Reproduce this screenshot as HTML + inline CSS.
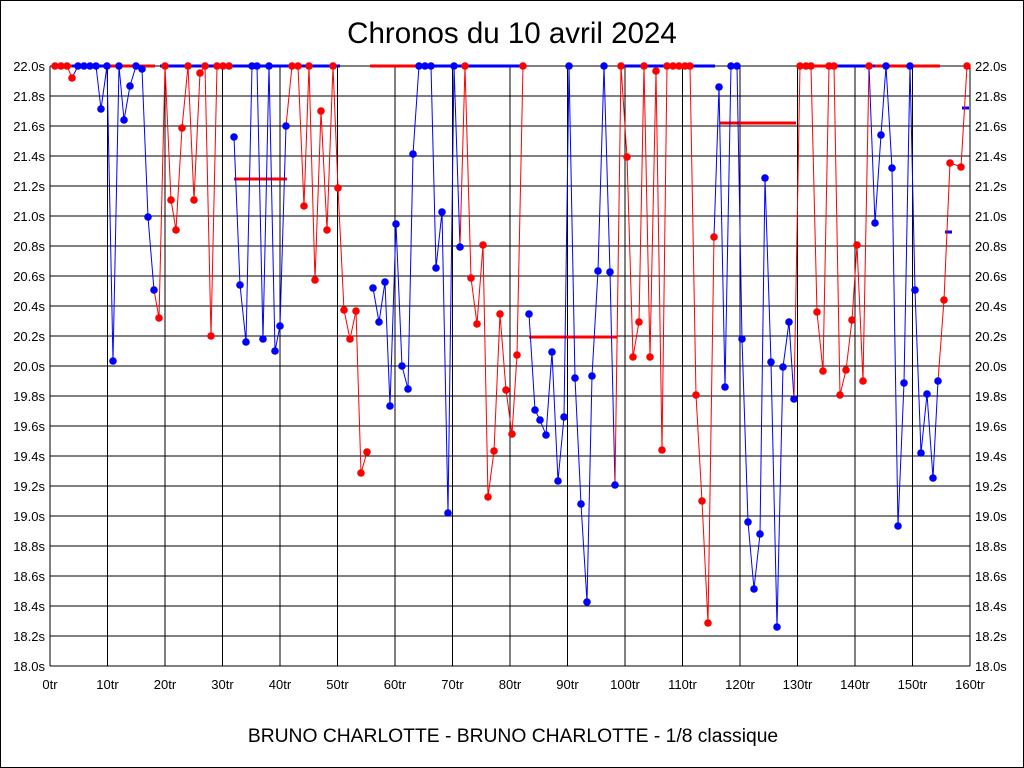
<!DOCTYPE html>
<html><head><meta charset="utf-8"><style>
body{margin:0;background:#fff;}
svg{display:block;font-family:"Liberation Sans",sans-serif;}
</style></head><body>
<svg width="1024" height="768" viewBox="0 0 1024 768">
<rect x="0.5" y="0.5" width="1023" height="767" fill="#fff" stroke="#000" stroke-width="1"/>
<text x="512" y="43" font-size="29.5" text-anchor="middle">Chronos du 10 avril 2024</text>
<text x="513" y="742" font-size="19.3" text-anchor="middle">BRUNO CHARLOTTE - BRUNO CHARLOTTE - 1/8 classique</text>
<g stroke="#000" stroke-width="1">
<path d="M50 66H970M50 96H970M50 126H970M50 156H970M50 186H970M50 216H970M50 246H970M50 276H970M50 306H970M50 336H970M50 366H970M50 396H970M50 426H970M50 456H970M50 486H970M50 516H970M50 546H970M50 576H970M50 606H970M50 636H970M50 666H970"/>
<path d="M50 66V666M107.5 66V666M165 66V666M222.5 66V666M280 66V666M337.5 66V666M395 66V666M452.5 66V666M510 66V666M567.5 66V666M625 66V666M682.5 66V666M740 66V666M797.5 66V666M855 66V666M912.5 66V666M970 66V666"/>
</g>
<g font-size="13" text-anchor="end">
<text x="45" y="71">22.0s</text><text x="45" y="101">21.8s</text><text x="45" y="131">21.6s</text><text x="45" y="161">21.4s</text><text x="45" y="191">21.2s</text><text x="45" y="221">21.0s</text><text x="45" y="251">20.8s</text><text x="45" y="281">20.6s</text><text x="45" y="311">20.4s</text><text x="45" y="341">20.2s</text><text x="45" y="371">20.0s</text><text x="45" y="401">19.8s</text><text x="45" y="431">19.6s</text><text x="45" y="461">19.4s</text><text x="45" y="491">19.2s</text><text x="45" y="521">19.0s</text><text x="45" y="551">18.8s</text><text x="45" y="581">18.6s</text><text x="45" y="611">18.4s</text><text x="45" y="641">18.2s</text><text x="45" y="671">18.0s</text>
</g>
<g font-size="13" text-anchor="start">
<text x="975" y="71">22.0s</text><text x="975" y="101">21.8s</text><text x="975" y="131">21.6s</text><text x="975" y="161">21.4s</text><text x="975" y="191">21.2s</text><text x="975" y="221">21.0s</text><text x="975" y="251">20.8s</text><text x="975" y="281">20.6s</text><text x="975" y="311">20.4s</text><text x="975" y="341">20.2s</text><text x="975" y="371">20.0s</text><text x="975" y="401">19.8s</text><text x="975" y="431">19.6s</text><text x="975" y="461">19.4s</text><text x="975" y="491">19.2s</text><text x="975" y="521">19.0s</text><text x="975" y="551">18.8s</text><text x="975" y="581">18.6s</text><text x="975" y="611">18.4s</text><text x="975" y="641">18.2s</text><text x="975" y="671">18.0s</text>
</g>
<g font-size="13" text-anchor="middle">
<text x="50" y="689">0tr</text><text x="107.5" y="689">10tr</text><text x="165" y="689">20tr</text><text x="222.5" y="689">30tr</text><text x="280" y="689">40tr</text><text x="337.5" y="689">50tr</text><text x="395" y="689">60tr</text><text x="452.5" y="689">70tr</text><text x="510" y="689">80tr</text><text x="567.5" y="689">90tr</text><text x="625" y="689">100tr</text><text x="682.5" y="689">110tr</text><text x="740" y="689">120tr</text><text x="797.5" y="689">130tr</text><text x="855" y="689">140tr</text><text x="912.5" y="689">150tr</text><text x="970" y="689">160tr</text>
</g>
<g stroke-width="3">
<path d="M55 66H72" stroke="#f00"/><path d="M72 66H105" stroke="#00f"/><path d="M105 66H155" stroke="#f00"/>
<path d="M160 66H340" stroke="#00f"/><path d="M370 66H450" stroke="#f00"/><path d="M430 66H525" stroke="#00f"/>
<path d="M620 66H715" stroke="#00f"/><path d="M800 66H830" stroke="#f00"/><path d="M830 66H875" stroke="#00f"/><path d="M875 66H940" stroke="#f00"/>
<path d="M234 179H287M529 337H617M720 123H796" stroke="#f00"/>
<path d="M945 232H952M962 108H969" stroke="#00f"/>
</g>
<g fill="none" stroke-width="1">
<polyline stroke="#f00" points="55,66 61,66 67,66 72,78"/>
<polyline stroke="#00f" points="72,78 78,66 84,66 90,66 96,66 101,109 107,66 113,361 119,66 124,120 130,86 136,66 142,69 148,217 154,290"/>
<polyline stroke="#f00" points="154,290 159,318 165,66 171,200 176,230 182,128 188,66 194,200 200,73 205,66 211,336 217,66 223,66 229,66"/>
<polyline stroke="#00f" points="234,137 240,285 246,342 252,66 257,66 263,339 269,66 275,351 280,326 286,126"/>
<polyline stroke="#f00" points="286,126 292,66 298,66 304,206 309,66 315,280 321,111 327,230 333,66 338,188 344,310 350,339 356,311 361,473 367,452"/>
<polyline stroke="#00f" points="373,288 379,322 385,282 390,406 396,224 402,366 408,389 413,154 419,66 425,66 431,66 436,268 442,212 448,513 454,66 460,247"/>
<polyline stroke="#f00" points="460,247 465,66 471,278 477,324 483,245 488,497 494,451 500,314 506,390 512,434 517,355 523,66"/>
<polyline stroke="#00f" points="529,314 535,410 540,420 546,435 552,352 558,481 564,417 569,66 575,378 581,504 587,602 592,376 598,271 604,66 610,272 615,485"/>
<polyline stroke="#f00" points="615,485 621,66 627,157 633,357 639,322 644,66 650,357 656,71 662,450 667,66 673,66 679,66 685,66 690,66 696,395 702,501 708,623 714,237"/>
<polyline stroke="#00f" points="714,237 719,87 725,387 731,66 737,66 742,339 748,522 754,589 760,534 765,178 771,362 777,627 783,367 789,322 794,399"/>
<polyline stroke="#f00" points="794,399 800,66 806,66 811,66 817,312 823,371 829,66 834,66 840,395 846,370 852,320 857,245 863,381 869,66"/>
<polyline stroke="#00f" points="869,66 875,223 881,135 886,66 892,168 898,526 904,383 910,66 915,290 921,453 927,394 933,478 938,381"/>
<polyline stroke="#f00" points="938,381 944,300 950,163 956,165 961,167 967,66"/>
</g>
<g fill="#f00">
<circle cx="55" cy="66" r="3.8"/><circle cx="61" cy="66" r="3.8"/><circle cx="67" cy="66" r="3.8"/><circle cx="72" cy="78" r="3.8"/>
<circle cx="159" cy="318" r="3.8"/><circle cx="165" cy="66" r="3.8"/><circle cx="171" cy="200" r="3.8"/><circle cx="176" cy="230" r="3.8"/><circle cx="182" cy="128" r="3.8"/><circle cx="188" cy="66" r="3.8"/><circle cx="194" cy="200" r="3.8"/><circle cx="200" cy="73" r="3.8"/><circle cx="205" cy="66" r="3.8"/><circle cx="211" cy="336" r="3.8"/><circle cx="217" cy="66" r="3.8"/><circle cx="223" cy="66" r="3.8"/><circle cx="229" cy="66" r="3.8"/>
<circle cx="292" cy="66" r="3.8"/><circle cx="298" cy="66" r="3.8"/><circle cx="304" cy="206" r="3.8"/><circle cx="309" cy="66" r="3.8"/><circle cx="315" cy="280" r="3.8"/><circle cx="321" cy="111" r="3.8"/><circle cx="327" cy="230" r="3.8"/><circle cx="333" cy="66" r="3.8"/><circle cx="338" cy="188" r="3.8"/><circle cx="344" cy="310" r="3.8"/><circle cx="350" cy="339" r="3.8"/><circle cx="356" cy="311" r="3.8"/><circle cx="361" cy="473" r="3.8"/><circle cx="367" cy="452" r="3.8"/>
<circle cx="465" cy="66" r="3.8"/><circle cx="471" cy="278" r="3.8"/><circle cx="477" cy="324" r="3.8"/><circle cx="483" cy="245" r="3.8"/><circle cx="488" cy="497" r="3.8"/><circle cx="494" cy="451" r="3.8"/><circle cx="500" cy="314" r="3.8"/><circle cx="506" cy="390" r="3.8"/><circle cx="512" cy="434" r="3.8"/><circle cx="517" cy="355" r="3.8"/><circle cx="523" cy="66" r="3.8"/>
<circle cx="621" cy="66" r="3.8"/><circle cx="627" cy="157" r="3.8"/><circle cx="633" cy="357" r="3.8"/><circle cx="639" cy="322" r="3.8"/><circle cx="644" cy="66" r="3.8"/><circle cx="650" cy="357" r="3.8"/><circle cx="656" cy="71" r="3.8"/><circle cx="662" cy="450" r="3.8"/><circle cx="667" cy="66" r="3.8"/><circle cx="673" cy="66" r="3.8"/><circle cx="679" cy="66" r="3.8"/><circle cx="685" cy="66" r="3.8"/><circle cx="690" cy="66" r="3.8"/><circle cx="696" cy="395" r="3.8"/><circle cx="702" cy="501" r="3.8"/><circle cx="708" cy="623" r="3.8"/><circle cx="714" cy="237" r="3.8"/>
<circle cx="800" cy="66" r="3.8"/><circle cx="806" cy="66" r="3.8"/><circle cx="811" cy="66" r="3.8"/><circle cx="817" cy="312" r="3.8"/><circle cx="823" cy="371" r="3.8"/><circle cx="829" cy="66" r="3.8"/><circle cx="834" cy="66" r="3.8"/><circle cx="840" cy="395" r="3.8"/><circle cx="846" cy="370" r="3.8"/><circle cx="852" cy="320" r="3.8"/><circle cx="857" cy="245" r="3.8"/><circle cx="863" cy="381" r="3.8"/><circle cx="869" cy="66" r="3.8"/>
<circle cx="944" cy="300" r="3.8"/><circle cx="950" cy="163" r="3.8"/><circle cx="961" cy="167" r="3.8"/><circle cx="967" cy="66" r="3.8"/>
</g>
<g fill="#00f">
<circle cx="78" cy="66" r="3.8"/><circle cx="84" cy="66" r="3.8"/><circle cx="90" cy="66" r="3.8"/><circle cx="96" cy="66" r="3.8"/><circle cx="101" cy="109" r="3.8"/><circle cx="107" cy="66" r="3.8"/><circle cx="113" cy="361" r="3.8"/><circle cx="119" cy="66" r="3.8"/><circle cx="124" cy="120" r="3.8"/><circle cx="130" cy="86" r="3.8"/><circle cx="136" cy="66" r="3.8"/><circle cx="142" cy="69" r="3.8"/><circle cx="148" cy="217" r="3.8"/><circle cx="154" cy="290" r="3.8"/>
<circle cx="234" cy="137" r="3.8"/><circle cx="240" cy="285" r="3.8"/><circle cx="246" cy="342" r="3.8"/><circle cx="252" cy="66" r="3.8"/><circle cx="257" cy="66" r="3.8"/><circle cx="263" cy="339" r="3.8"/><circle cx="269" cy="66" r="3.8"/><circle cx="275" cy="351" r="3.8"/><circle cx="280" cy="326" r="3.8"/><circle cx="286" cy="126" r="3.8"/>
<circle cx="373" cy="288" r="3.8"/><circle cx="379" cy="322" r="3.8"/><circle cx="385" cy="282" r="3.8"/><circle cx="390" cy="406" r="3.8"/><circle cx="396" cy="224" r="3.8"/><circle cx="402" cy="366" r="3.8"/><circle cx="408" cy="389" r="3.8"/><circle cx="413" cy="154" r="3.8"/><circle cx="419" cy="66" r="3.8"/><circle cx="425" cy="66" r="3.8"/><circle cx="431" cy="66" r="3.8"/><circle cx="436" cy="268" r="3.8"/><circle cx="442" cy="212" r="3.8"/><circle cx="448" cy="513" r="3.8"/><circle cx="454" cy="66" r="3.8"/><circle cx="460" cy="247" r="3.8"/>
<circle cx="529" cy="314" r="3.8"/><circle cx="535" cy="410" r="3.8"/><circle cx="540" cy="420" r="3.8"/><circle cx="546" cy="435" r="3.8"/><circle cx="552" cy="352" r="3.8"/><circle cx="558" cy="481" r="3.8"/><circle cx="564" cy="417" r="3.8"/><circle cx="569" cy="66" r="3.8"/><circle cx="575" cy="378" r="3.8"/><circle cx="581" cy="504" r="3.8"/><circle cx="587" cy="602" r="3.8"/><circle cx="592" cy="376" r="3.8"/><circle cx="598" cy="271" r="3.8"/><circle cx="604" cy="66" r="3.8"/><circle cx="610" cy="272" r="3.8"/><circle cx="615" cy="485" r="3.8"/>
<circle cx="719" cy="87" r="3.8"/><circle cx="725" cy="387" r="3.8"/><circle cx="731" cy="66" r="3.8"/><circle cx="737" cy="66" r="3.8"/><circle cx="742" cy="339" r="3.8"/><circle cx="748" cy="522" r="3.8"/><circle cx="754" cy="589" r="3.8"/><circle cx="760" cy="534" r="3.8"/><circle cx="765" cy="178" r="3.8"/><circle cx="771" cy="362" r="3.8"/><circle cx="777" cy="627" r="3.8"/><circle cx="783" cy="367" r="3.8"/><circle cx="789" cy="322" r="3.8"/><circle cx="794" cy="399" r="3.8"/>
<circle cx="875" cy="223" r="3.8"/><circle cx="881" cy="135" r="3.8"/><circle cx="886" cy="66" r="3.8"/><circle cx="892" cy="168" r="3.8"/><circle cx="898" cy="526" r="3.8"/><circle cx="904" cy="383" r="3.8"/><circle cx="910" cy="66" r="3.8"/><circle cx="915" cy="290" r="3.8"/><circle cx="921" cy="453" r="3.8"/><circle cx="927" cy="394" r="3.8"/><circle cx="933" cy="478" r="3.8"/><circle cx="938" cy="381" r="3.8"/>
</g>
</svg>
</body></html>
